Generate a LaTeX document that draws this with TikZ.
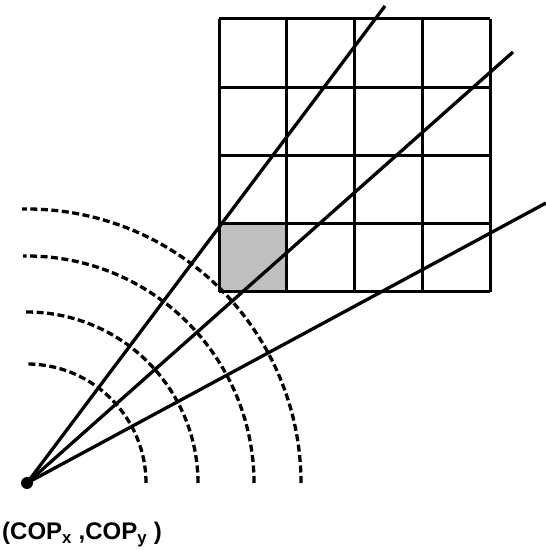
\documentclass[tikz,border=0pt]{standalone}
\usepackage{fontspec}
\setmainfont{Liberation Sans}
\begin{document}
\begin{tikzpicture}[x=1pt,y=1pt,
  gridline/.style={line width=3pt},
  ray/.style={line width=3.3pt},
  wave/.style={line width=3.3pt, dash pattern=on 7pt off 3.5pt},
  shade/.style={fill=black!25}]
\useasboundingbox (0,0) rectangle (546,550);
% grid: x 219..490, y 258..531
\fill[shade] (219,258) rectangle (286.75,325.75);
\foreach \i in {0,1,2,3,4}{
  \draw[gridline] ({219+67.75*\i},258) -- ({219+67.75*\i},531);
  \draw[gridline] (219,{258+68.25*\i}) -- (490,{258+68.25*\i});
}
\coordinate (cop) at (27,67);
\coordinate (e1) at (385,544);
\coordinate (e2) at (513,498);
\coordinate (e3) at (546,347);
\foreach \r in {119,171,227,274}{
  \draw[wave] (27+\r,67) arc[start angle=0,end angle=91,radius=\r];
}
\draw[ray] (cop) -- (e1);
\draw[ray] (cop) -- (e2);
\draw[ray] (cop) -- (e3);
\fill (cop) circle (6);
\node[anchor=base west, inner sep=0pt, font=\fontsize{24}{27}\selectfont\bfseries] (lab) at (2,10) {(COP$_{\mathbf{x}}$ ,COP$_{\mathbf{y}}$ )};
\end{tikzpicture}
\end{document}
